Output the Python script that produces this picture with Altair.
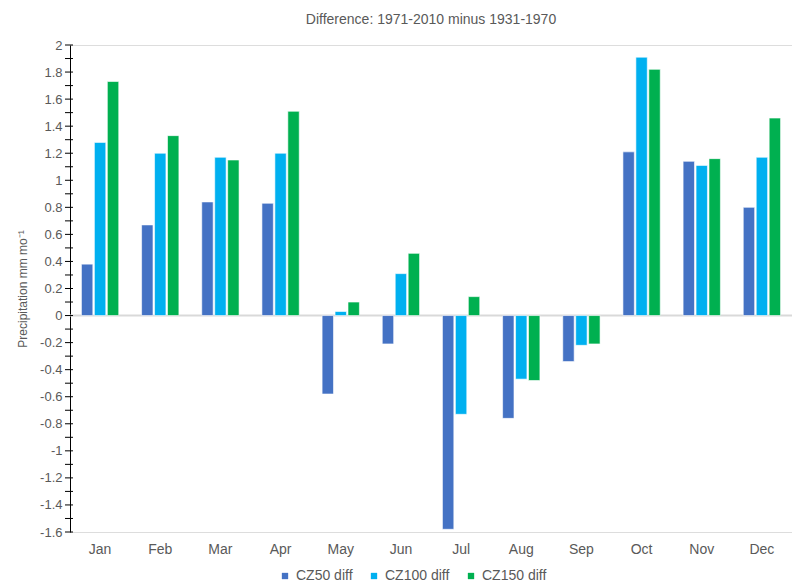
import altair as alt
import pandas as pd

months = ["Jan", "Feb", "Mar", "Apr", "May", "Jun", "Jul", "Aug", "Sep", "Oct", "Nov", "Dec"]
series = ["CZ50 diff", "CZ100 diff", "CZ150 diff"]
cz50 = [0.38, 0.67, 0.84, 0.83, -0.58, -0.21, -1.58, -0.76, -0.34, 1.21, 1.14, 0.80]
cz100 = [1.28, 1.20, 1.17, 1.20, 0.03, 0.31, -0.73, -0.47, -0.22, 1.91, 1.11, 1.17]
cz150 = [1.73, 1.33, 1.15, 1.51, 0.10, 0.46, 0.14, -0.48, -0.21, 1.82, 1.16, 1.46]
colors = ["#4472C4", "#00B0F0", "#00B050"]
label_ticks = [round(-1.6 + 0.2 * i, 1) for i in range(19)]
minor_ticks = [round(-1.6 + 0.1 * i, 1) for i in range(37)]

rows = []
for s, vals in zip(series, [cz50, cz100, cz150]):
    for m, v in zip(months, vals):
        rows.append({"month": m, "series": s, "value": v})
df = pd.DataFrame(rows)

font = "Liberation Sans"
gray = "#595959"
yscale = alt.Scale(domain=[-1.6, 2], nice=False)

bars = alt.Chart(df).mark_bar(stroke="white", strokeWidth=0.6).encode(
    x=alt.X("month:N", sort=months, title=None,
            scale=alt.Scale(paddingInner=0.38, paddingOuter=0.19),
            axis=alt.Axis(labelAngle=0, domain=False, ticks=False, labelPadding=10,
                          labelFontSize=14, labelColor=gray, labelFont=font)),
    xOffset=alt.XOffset("series:N", sort=series, scale=alt.Scale(paddingInner=0.12)),
    y=alt.Y("value:Q", title="Precipitation mm mo⁻¹", scale=yscale,
            axis=alt.Axis(values=label_ticks, tickCount=40, grid=False, domainColor="#000000",
                          ticks=False, labelPadding=8, labelFontSize=13, labelColor=gray,
                          labelFont=font, labelOverlap=False, labelFlush=False,
                          labelExpr="'' + datum.value",
                          titleFontSize=12, titleColor=gray, titleFont=font,
                          titleFontWeight="normal", titlePadding=10)),
    color=alt.Color("series:N", sort=series,
                    scale=alt.Scale(domain=series, range=colors),
                    legend=alt.Legend(title=None, orient="none", direction="horizontal",
                                      legendX=208, legendY=524,
                                      symbolType="square", symbolSize=40, symbolStrokeWidth=0,
                                      symbolOffset=0, labelOffset=4,
                                      labelFontSize=14, labelColor=gray, labelFont=font,
                                      columnPadding=14)),
)

zero = alt.Chart(pd.DataFrame({"y": [0]})).mark_rule(color="#D9D9D9", strokeWidth=2).encode(
    y=alt.Y("y:Q", scale=yscale))

tick_marks = alt.Chart(pd.DataFrame({"t": minor_ticks})).mark_rule(
    color="#000000", strokeWidth=1).encode(
    y=alt.Y("t:Q", scale=yscale),
    x=alt.value(-5), x2=alt.value(3))

chart = alt.layer(zero, bars, tick_marks).properties(
    width=722, height=487,
    title=alt.Title("Difference: 1971-2010 minus 1931-1970", fontSize=14, font=font,
                    fontWeight="normal", color=gray, offset=12),
    autosize=alt.AutoSizeParams(type="none"),
    padding={"left": 62, "top": 37, "right": 0, "bottom": 52},
).configure_view(stroke=None).configure(background="white")

chart.save("out.html", embed_options={"renderer": "svg", "actions": False})
